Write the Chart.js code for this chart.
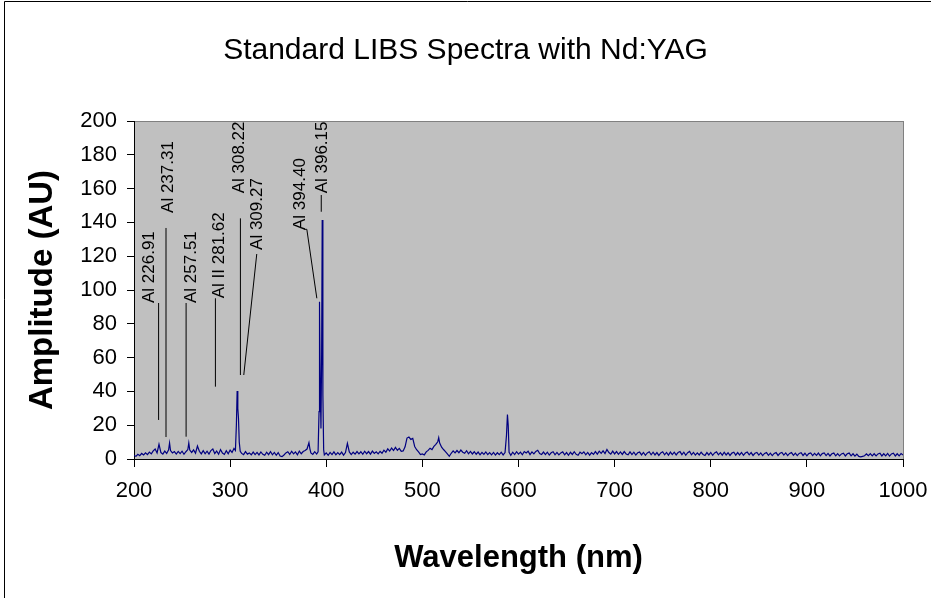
<!DOCTYPE html>
<html><head><meta charset="utf-8">
<script src="https://cdn.jsdelivr.net/npm/chart.js@4.4.1/dist/chart.umd.min.js"></script>
<style>html,body{margin:0;padding:0;background:#fff;}canvas{display:block;}</style>
</head><body>
<canvas id="c" width="931" height="598"></canvas>
<script>
// Wavelength (nm) of each sample
const wavelengths = [
 200,202,204,206,208,210,212,214,216,218,
 220,222,224,226,228,230,232,234,236,237,
 238,240,242,244,246,248,250,252,254,256,
 257,258,260,262,264,266,268,270,272,274,
 276,278,280,282,284,286,288,290,292,294,
 296,298,300,302,304,305.5,306.5,307.3,308,308.7,
 309.5,310.5,312,314,316,318,320,322,324,326,
 328,330,332,334,336,338,340,342,344,346,
 348,350,352,354,356,358,360,362,364,366,
 368,370,372,374,376,378,380,382,383,384,
 386,388,390,391.5,392.5,393,393.8,394.5,395.2,395.8,
 396.5,397.3,398,400,402,404,406,408,410,412,
 414,416,418,420,422,424,426,428,430,432,
 434,436,438,440,442,444,446,448,450,452,
 454,456,458,460,462,464,466,468,470,472,
 474,476,478,480,482,484,486,488,490,492,
 494,496,498,500,502,504,506,508,510,512,
 514,516,517,518,520,522,524,526,528,530,
 532,534,536,538,540,542,544,546,548,550,
 552,554,556,558,560,562,564,566,568,570,
 572,574,576,578,580,582,584,586,587.5,588.5,
 589.3,590.2,592,594,596,598,600,602,604,606,
 608,610,612,614,616,618,620,622,624,626,
 628,630,632,634,636,638,640,642,644,646,
 648,650,652,654,656,658,660,662,664,666,
 668,670,672,674,676,678,680,682,684,686,
 688,690,692,694,696,698,700,702,704,706,
 708,710,712,714,716,718,720,722,724,726,
 728,730,732,734,736,738,740,742,744,746,
 748,750,752,754,756,758,760,762,764,766,
 768,770,772,774,776,778,780,782,784,786,
 788,790,792,794,796,798,800,802,804,806,
 808,810,812,814,816,818,820,822,824,826,
 828,830,832,834,836,838,840,842,844,846,
 848,850,852,854,856,858,860,862,864,866,
 868,870,872,874,876,878,880,882,884,886,
 888,890,892,894,896,898,900,902,904,906,
 908,910,912,914,916,918,920,922,924,926,
 928,930,932,934,936,938,940,942,944,946,
 948,950,952,954,956,958,960,962,964,966,
 968,970,972,974,976,978,980,982,984,986,
 988,990,992,994,996,998,1000
];
// Amplitude (AU)
const amplitudes = [
 2.1,1.6,2.8,2.0,3.3,2.4,3.7,2.6,4.1,3.0,
 4.8,5.9,3.6,8.7,3.8,2.9,4.7,3.3,5.4,9.5,
 5.0,3.6,4.4,2.9,4.5,3.2,4.6,2.8,4.3,5.6,
 9.5,5.3,3.9,5.4,3.4,7.7,4.6,3.0,4.9,3.1,
 4.6,2.9,5.0,5.9,3.2,4.7,2.8,5.6,3.5,2.7,
 4.9,3.1,5.3,3.9,6.2,5.0,20,40.2,30,24,
 10,4.5,3.3,2.6,4.4,2.9,3.6,2.5,4.1,2.6,
 3.9,2.4,4.2,2.8,2.2,4.0,2.6,4.4,2.5,3.9,
 2.2,3.8,1.8,1.4,2.4,3.6,4.3,2.7,4.6,3.0,
 4.2,2.5,4.7,3.1,4.4,5.0,5.9,9.6,6.0,3.6,
 2.7,4.3,2.9,4.2,28,93,42,18,62,141.4,
 38,5.5,2.4,3.6,2.2,3.9,2.6,4.2,2.5,3.8,
 2.6,4.1,2.3,3.8,9.3,4.2,2.6,4.0,2.9,4.4,
 3.0,4.3,2.8,4.6,3.1,4.4,2.9,4.7,3.3,4.2,
 3.0,4.5,3.4,5.2,4.0,6.0,4.7,6.5,5.0,6.9,
 5.2,6.3,4.5,4.8,7.2,12.4,13.0,11.6,12.2,7.4,
 5.5,4.2,2.6,3.0,2.4,4.2,5.1,6.4,5.6,7.5,
 8.6,10.2,12.6,9.4,7.0,5.6,4.4,3.0,1.6,3.4,
 4.8,3.6,5.0,3.7,5.3,4.0,3.4,4.9,3.1,4.5,
 3.0,4.3,2.8,4.1,2.5,3.9,2.7,4.2,2.6,3.8,
 2.5,3.9,2.3,3.7,2.6,4.0,2.4,3.8,14,26.3,
 20,4.0,2.2,4.0,2.6,4.3,2.9,4.1,2.5,4.4,
 3.6,4.6,2.6,4.2,3.0,4.5,5.2,3.2,2.7,4.1,
 2.6,4.0,2.3,3.7,4.3,2.5,3.9,2.4,3.6,4.2,
 2.5,3.8,2.2,4.0,2.7,4.3,2.8,2.2,4.1,3.1,
 4.2,2.5,3.9,2.3,3.8,2.7,4.4,2.9,4.6,3.3,
 4.8,3.2,5.6,3.8,2.9,4.7,3.0,4.4,2.8,4.2,
 2.7,4.4,3.0,2.5,4.2,2.6,4.0,2.3,3.7,4.1,
 2.4,3.9,2.2,3.6,4.3,2.5,4.0,2.4,3.8,2.1,
 3.6,4.3,2.5,3.9,2.3,4.1,2.6,4.0,2.4,3.8,
 4.4,2.6,4.0,2.2,3.7,4.5,2.5,3.9,2.3,3.6,
 2.4,4.0,2.7,2.1,3.8,2.4,3.9,2.2,3.6,4.2,
 2.5,3.8,2.3,4.0,2.4,3.7,2.1,3.5,4.0,2.3,
 3.8,2.4,3.9,2.2,3.5,4.1,2.5,3.8,2.1,3.4,
 3.9,2.3,3.6,2.0,3.3,3.8,2.2,3.5,2.0,3.3,
 3.8,2.1,3.4,3.9,2.3,3.6,2.0,3.3,3.8,2.2,
 3.5,2.0,3.3,3.7,2.1,3.4,1.9,3.2,3.6,2.0,
 3.3,2.1,3.5,1.9,3.2,3.6,2.0,3.3,1.8,3.1,
 3.5,1.9,3.2,1.8,3.0,3.4,1.8,3.1,3.5,1.9,
 3.1,1.7,2.9,1.5,1.3,1.6,1.9,3.0,2.0,3.2,
 1.9,3.1,1.8,3.0,3.4,1.8,3.1,1.9,3.3,1.7,
 3.0,3.4,1.8,3.1,1.9,3.2,2.4
];
const xTickValues = [200,300,400,500,600,700,800,900,1000];
const yTickValues = [0,20,40,60,80,100,120,140,160,180,200];

// Peak identification labels
const lineLabels = ['Al 226.91','Al 237.31','Al 257.51','Al II 281.62','Al 308.22','Al 309.27','Al 394.40','Al 396.15'];
// label text base (wavelength, amplitude)
const labelAnchors = [[215.9,92.3],[235.7,145.6],[259.4,92.3],[288.9,95.1],[309.7,157.2],[328.8,123.7],[372.9,135.5],[395.4,157.2]];
// leader lines (wavelength, amplitude points)
const leaderLines = [
 [[225.6,92.3],[225.6,23.1]],
 [[233.3,136.7],[233.3,13.0]],
 [[254.2,92.3],[254.2,13.2]],
 [[284.7,95.1],[284.7,42.8]],
 [[310.7,142.4],[310.7,49.7]],
 [[327.7,121.3],[314.2,49.7]],
 [[377.5,135.9],[379.8,135.9],[390.2,95.1]],
 [[394.8,156.2],[394.8,146.3]]
];

const FONT = '"Liberation Sans", Arial, sans-serif';

const framePlugin = {
  id: 'frame',
  beforeDraw(chart) {
    const {ctx, chartArea: a} = chart;
    ctx.save();
    ctx.fillStyle = '#fff';
    ctx.fillRect(0, 0, chart.width, chart.height);
    ctx.strokeStyle = '#000'; ctx.lineWidth = 1;
    ctx.beginPath();
    ctx.moveTo(4.5, chart.height); ctx.lineTo(4.5, 1.5); ctx.lineTo(chart.width, 1.5);
    ctx.stroke();
    ctx.fillStyle = '#C0C0C0';
    ctx.fillRect(a.left, a.top, a.right - a.left, a.bottom - a.top);
    ctx.strokeStyle = '#808080';
    ctx.strokeRect(Math.round(a.left) + 0.5, Math.round(a.top) + 0.5, Math.round(a.right - a.left), Math.round(a.bottom - a.top));
    ctx.restore();
  }
};

const annotationPlugin = {
  id: 'peakLabels',
  afterDatasetsDraw(chart) {
    const {ctx, scales: {x, y}} = chart;
    ctx.save();
    ctx.strokeStyle = '#000'; ctx.lineWidth = 1;
    leaderLines.forEach(pts => {
      ctx.beginPath();
      pts.forEach((p, i) => {
        const px = x.getPixelForValue(p[0]), py = y.getPixelForValue(p[1]);
        if (i) ctx.lineTo(px, py); else ctx.moveTo(px, py);
      });
      ctx.stroke();
    });
    ctx.fillStyle = '#000';
    ctx.font = '17px ' + FONT;
    ctx.textAlign = 'left'; ctx.textBaseline = 'middle';
    lineLabels.forEach((t, i) => {
      const px = x.getPixelForValue(labelAnchors[i][0]), py = y.getPixelForValue(labelAnchors[i][1]);
      ctx.save(); ctx.translate(px, py); ctx.rotate(-Math.PI / 2); ctx.fillText(t, 0, 0); ctx.restore();
    });
    ctx.restore();
  }
};

new Chart(document.getElementById('c'), {
  type: 'scatter',
  data: {
    datasets: [{
      label: 'Spectrum',
      data: wavelengths.map((w, i) => ({x: w, y: amplitudes[i]})),
      showLine: true,
      borderColor: '#000080',
      borderWidth: 1.2,
      pointRadius: 0,
      tension: 0
    }]
  },
  options: {
    responsive: false,
    animation: false,
    layout: {padding: {left: 0, right: 0, top: 0, bottom: 0}},
    plugins: {
      legend: {display: false},
      tooltip: {enabled: false},
      title: {
        display: true,
        text: 'Standard LIBS Spectra with Nd:YAG',
        color: '#000',
        font: {family: FONT, size: 30, weight: 'normal'},
        padding: {top: 33, bottom: 52}
      }
    },
    scales: {
      x: {
        type: 'linear', min: 200, max: 1000,
        afterBuildTicks(s) { s.ticks = xTickValues.map(v => ({value: v})); },
        afterFit(s) { s.paddingRight = 28; s.height = 139; },
        ticks: {color: '#000', font: {family: FONT, size: 22}, padding: 11, callback: v => String(v)},
        grid: {display: true, drawOnChartArea: false, drawTicks: true, tickLength: 8, color: '#000'},
        border: {display: true, color: '#000', width: 1},
        title: {display: true, text: 'Wavelength (nm)', color: '#000',
          font: {family: FONT, size: 31, weight: 'bold'}, padding: {top: 4, bottom: 21}}
      },
      y: {
        type: 'linear', min: 0, max: 200,
        afterBuildTicks(s) { s.ticks = yTickValues.map(v => ({value: v})); },
        afterFit(s) { s.width = 134; s.paddingTop = 0; s.paddingBottom = 0; },
        ticks: {color: '#000', font: {family: FONT, size: 22}, padding: 10, callback: v => String(v)},
        grid: {display: true, drawOnChartArea: false, drawTicks: true, tickLength: 7, color: '#000'},
        border: {display: true, color: '#000', width: 1},
        title: {display: true, text: 'Amplitude (AU)', color: '#000',
          font: {family: FONT, size: 33, weight: 'bold'}, padding: {top: 23, bottom: 0}}
      }
    }
  },
  plugins: [framePlugin, annotationPlugin]
});
</script>
</body></html>
